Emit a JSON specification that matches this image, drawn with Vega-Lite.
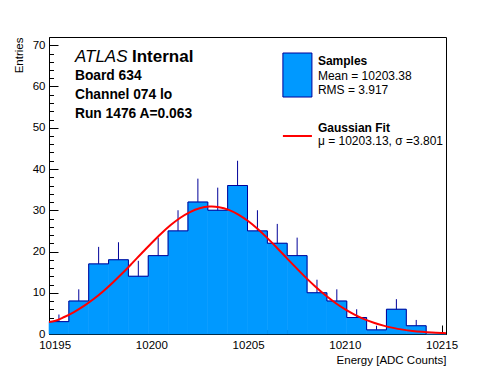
{
  "$schema": "https://vega.github.io/schema/vega-lite/v6.json",
  "width": 397,
  "height": 297,
  "autosize": "none",
  "padding": {"left": 49, "top": 37, "right": 50, "bottom": 38},
  "background": "white",
  "config": {
    "view": {"stroke": "#000000", "strokeWidth": 1},
    "axis": {"labelFont": "Liberation Sans", "titleFont": "Liberation Sans", "labelColor": "#000000", "titleColor": "#000000", "tickColor": "#000000", "domainColor": "#000000", "grid": false, "labelFontSize": 11.5, "titleFontSize": 11.5, "titleFontWeight": "normal", "labelFlush": false, "labelOverlap": false},
    "text": {"font": "Liberation Sans", "color": "#000000"}
  },
  "datasets": {
    "bins": [
      {"x0": 10194.71, "x1": 10195.736, "xc": 10195.223, "count": 3, "lo": 1.27, "hi": 4.73},
      {"x0": 10195.736, "x1": 10196.762, "xc": 10196.249, "count": 8, "lo": 5.17, "hi": 10.83},
      {"x0": 10196.762, "x1": 10197.788, "xc": 10197.275, "count": 17, "lo": 12.88, "hi": 21.12},
      {"x0": 10197.788, "x1": 10198.814, "xc": 10198.301, "count": 18, "lo": 13.76, "hi": 22.24},
      {"x0": 10198.814, "x1": 10199.84, "xc": 10199.327, "count": 14, "lo": 10.26, "hi": 17.74},
      {"x0": 10199.84, "x1": 10200.866, "xc": 10200.353, "count": 19, "lo": 14.64, "hi": 23.36},
      {"x0": 10200.866, "x1": 10201.892, "xc": 10201.379, "count": 25, "lo": 20, "hi": 30},
      {"x0": 10201.892, "x1": 10202.918, "xc": 10202.405, "count": 32, "lo": 26.34, "hi": 37.66},
      {"x0": 10202.918, "x1": 10203.944, "xc": 10203.431, "count": 30, "lo": 24.52, "hi": 35.48},
      {"x0": 10203.944, "x1": 10204.97, "xc": 10204.457, "count": 36, "lo": 30, "hi": 42},
      {"x0": 10204.97, "x1": 10205.996, "xc": 10205.483, "count": 25, "lo": 20, "hi": 30},
      {"x0": 10205.996, "x1": 10207.022, "xc": 10206.509, "count": 22, "lo": 17.31, "hi": 26.69},
      {"x0": 10207.022, "x1": 10208.048, "xc": 10207.535, "count": 19, "lo": 14.64, "hi": 23.36},
      {"x0": 10208.048, "x1": 10209.074, "xc": 10208.561, "count": 10, "lo": 6.84, "hi": 13.16},
      {"x0": 10209.074, "x1": 10210.1, "xc": 10209.587, "count": 8, "lo": 5.17, "hi": 10.83},
      {"x0": 10210.1, "x1": 10211.126, "xc": 10210.613, "count": 4, "lo": 2, "hi": 6},
      {"x0": 10211.126, "x1": 10212.152, "xc": 10211.639, "count": 1, "lo": 0, "hi": 2},
      {"x0": 10212.152, "x1": 10213.178, "xc": 10212.665, "count": 6, "lo": 3.55, "hi": 8.45},
      {"x0": 10213.178, "x1": 10214.204, "xc": 10213.691, "count": 2, "lo": 0.59, "hi": 3.41},
      {"x0": 10214.204, "x1": 10215.23, "xc": 10214.717, "count": 0, "lo": 0, "hi": 0}
    ],
    "fit": [
      {"x": 10194.71, "y": 2.9},
      {"x": 10195.0, "y": 3.14},
      {"x": 10195.5, "y": 4.12},
      {"x": 10196.0, "y": 5.32},
      {"x": 10196.5, "y": 6.75},
      {"x": 10197.0, "y": 8.42},
      {"x": 10197.5, "y": 10.32},
      {"x": 10198.0, "y": 12.43},
      {"x": 10198.5, "y": 14.71},
      {"x": 10199.0, "y": 17.12},
      {"x": 10199.5, "y": 19.58},
      {"x": 10200.0, "y": 22.01},
      {"x": 10200.5, "y": 24.32},
      {"x": 10201.0, "y": 26.41},
      {"x": 10201.5, "y": 28.19},
      {"x": 10202.0, "y": 29.56},
      {"x": 10202.5, "y": 30.48},
      {"x": 10203.0, "y": 30.88},
      {"x": 10203.13, "y": 30.9},
      {"x": 10203.5, "y": 30.75},
      {"x": 10204.0, "y": 30.1},
      {"x": 10204.5, "y": 28.96},
      {"x": 10205.0, "y": 27.38},
      {"x": 10205.5, "y": 25.44},
      {"x": 10206.0, "y": 23.24},
      {"x": 10206.5, "y": 20.86},
      {"x": 10207.0, "y": 18.4},
      {"x": 10207.5, "y": 15.96},
      {"x": 10208.0, "y": 13.6},
      {"x": 10208.5, "y": 11.39},
      {"x": 10209.0, "y": 9.38},
      {"x": 10209.5, "y": 7.59},
      {"x": 10210.0, "y": 6.03},
      {"x": 10210.5, "y": 4.72},
      {"x": 10211.0, "y": 3.62},
      {"x": 10211.5, "y": 2.74},
      {"x": 10212.0, "y": 2.03},
      {"x": 10212.5, "y": 1.48},
      {"x": 10213.0, "y": 1.06},
      {"x": 10213.5, "y": 0.75},
      {"x": 10214.0, "y": 0.52},
      {"x": 10214.5, "y": 0.35},
      {"x": 10215.0, "y": 0.24},
      {"x": 10215.23, "y": 0.2}
    ],
    "one": [{}]
  },
  "resolve": {"axis": {"x": "independent", "y": "independent"}},
  "layer": [
    {
      "data": {"name": "bins"},
      "mark": {"type": "rule", "color": "#000099", "strokeWidth": 1},
      "encoding": {
        "x": {"field": "xc", "type": "quantitative", "scale": {"domain": [10194.71, 10215.23], "nice": false, "zero": false},
              "axis": {"orient": "bottom", "values": [10196,10197,10198,10199,10201,10202,10203,10204,10206,10207,10208,10209,10211,10212,10213,10214], "tickSize": -4.5, "labels": false, "domain": false, "title": null}},
        "y": {"field": "lo", "type": "quantitative", "scale": {"domain": [0, 72], "nice": false, "zero": false},
              "axis": {"orient": "left", "values": [2,4,6,8,12,14,16,18,22,24,26,28,32,34,36,38,42,44,46,48,52,54,56,58,62,64,66,68], "tickSize": -4.5, "labels": false, "domain": false, "title": null}},
        "y2": {"field": "hi"}
      }
    },
    {
      "data": {"name": "bins"},
      "mark": {"type": "rect", "fill": "#0099ff", "stroke": "#0099ff", "strokeWidth": 0.6},
      "encoding": {
        "x": {"field": "x0", "type": "quantitative", "scale": {"domain": [10194.71, 10215.23], "nice": false, "zero": false},
              "axis": {"orient": "bottom", "values": [10195,10200,10205,10210,10215], "format": "d", "tickSize": -9, "labelPadding": 14, "title": "Energy [ADC Counts]", "titleAnchor": "end", "titlePadding": 4}},
        "x2": {"field": "x1"},
        "y": {"field": "count", "type": "quantitative", "scale": {"domain": [0, 72], "nice": false, "zero": false},
              "axis": {"orient": "left", "values": [0,10,20,30,40,50,60,70], "tickSize": -9, "labelPadding": 13, "title": "Entries", "titleAnchor": "end", "titlePadding": 8}},
        "y2": {"datum": 0}
      }
    },
    {
      "data": {"name": "bins"},
      "mark": {"type": "line", "interpolate": "step-after", "color": "#000099", "strokeWidth": 1},
      "encoding": {
        "x": {"field": "x0", "type": "quantitative", "scale": {"domain": [10194.71, 10215.23], "nice": false, "zero": false}, "axis": null},
        "y": {"field": "count", "type": "quantitative", "scale": {"domain": [0, 72], "nice": false, "zero": false}, "axis": null}
      }
    },
    {
      "data": {"name": "fit"},
      "mark": {"type": "line", "color": "#ff0000", "strokeWidth": 2, "interpolate": "monotone"},
      "encoding": {
        "x": {"field": "x", "type": "quantitative", "scale": {"domain": [10194.71, 10215.23], "nice": false, "zero": false}, "axis": null},
        "y": {"field": "y", "type": "quantitative", "scale": {"domain": [0, 72], "nice": false, "zero": false}, "axis": null}
      }
    },
    {
      "data": {"name": "one"},
      "mark": {"type": "text", "text": "ATLAS", "fontStyle": "italic", "fontSize": 17, "align": "left", "baseline": "alphabetic"},
      "encoding": {"x": {"datum": 10196.05, "type": "quantitative", "axis": null}, "y": {"datum": 66.06, "type": "quantitative", "axis": null}}
    },
    {
      "data": {"name": "one"},
      "mark": {"type": "text", "text": "Internal", "fontWeight": "bold", "fontSize": 17, "align": "left", "baseline": "alphabetic"},
      "encoding": {"x": {"datum": 10199.0, "type": "quantitative", "axis": null}, "y": {"datum": 66.06, "type": "quantitative", "axis": null}}
    },
    {
      "data": {"name": "one"},
      "mark": {"type": "text", "text": ["Board 634", "Channel 074 lo", "Run 1476 A=0.063"], "fontWeight": "bold", "fontSize": 13.8, "lineHeight": 19, "align": "left", "baseline": "alphabetic"},
      "encoding": {"x": {"datum": 10196.05, "type": "quantitative", "axis": null}, "y": {"datum": 61.58, "type": "quantitative", "axis": null}}
    },
    {
      "data": {"name": "one"},
      "mark": {"type": "rect", "fill": "#0099ff", "stroke": "#000099", "strokeWidth": 1},
      "encoding": {"x": {"datum": 10206.8, "type": "quantitative", "axis": null}, "x2": {"datum": 10208.3}, "y": {"datum": 68.12, "type": "quantitative", "axis": null}, "y2": {"datum": 57.45}}
    },
    {
      "data": {"name": "one"},
      "mark": {"type": "text", "text": "Samples", "fontWeight": "bold", "fontSize": 12, "align": "left", "baseline": "alphabetic"},
      "encoding": {"x": {"datum": 10208.61, "type": "quantitative", "axis": null}, "y": {"datum": 65.21, "type": "quantitative", "axis": null}}
    },
    {
      "data": {"name": "one"},
      "mark": {"type": "text", "text": ["Mean = 10203.38", "RMS = 3.917"], "fontSize": 12, "lineHeight": 14, "align": "left", "baseline": "alphabetic"},
      "encoding": {"x": {"datum": 10208.61, "type": "quantitative", "axis": null}, "y": {"datum": 61.58, "type": "quantitative", "axis": null}}
    },
    {
      "data": {"name": "one"},
      "mark": {"type": "rule", "color": "#ff0000", "strokeWidth": 2},
      "encoding": {"x": {"datum": 10206.8, "type": "quantitative", "axis": null}, "x2": {"datum": 10208.3}, "y": {"datum": 48.0, "type": "quantitative", "axis": null}}
    },
    {
      "data": {"name": "one"},
      "mark": {"type": "text", "text": "Gaussian Fit", "fontWeight": "bold", "fontSize": 12, "align": "left", "baseline": "alphabetic"},
      "encoding": {"x": {"datum": 10208.61, "type": "quantitative", "axis": null}, "y": {"datum": 49.09, "type": "quantitative", "axis": null}}
    },
    {
      "data": {"name": "one"},
      "mark": {"type": "text", "text": "μ = 10203.13, σ =3.801", "fontSize": 12, "align": "left", "baseline": "alphabetic"},
      "encoding": {"x": {"datum": 10208.61, "type": "quantitative", "axis": null}, "y": {"datum": 45.7, "type": "quantitative", "axis": null}}
    }
  ]
}
